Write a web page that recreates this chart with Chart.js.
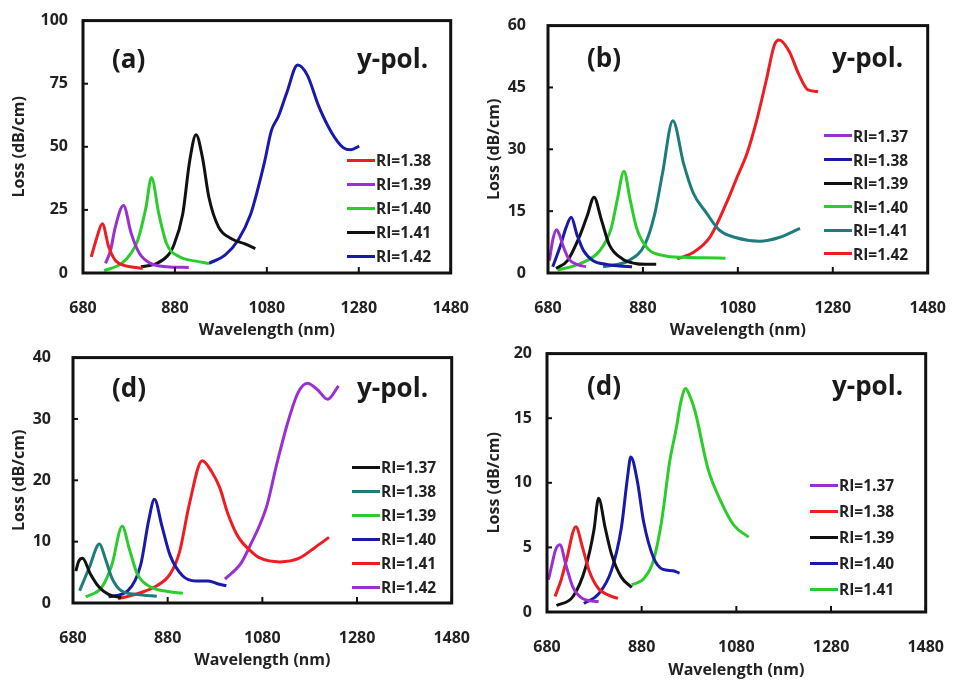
<!DOCTYPE html>
<html lang="en">
<head>
<meta charset="UTF-8">
<title>Loss spectra, y-pol.</title>
<script src="https://cdn.jsdelivr.net/npm/chart.js@4"></script>
<style>
    body { margin: 0; background: #fff; width: 963px; height: 683px; position: relative; overflow: hidden; font-family: "Open Sans", sans-serif; }
    canvas { position: absolute; }
    .tag { position: absolute; font-weight: 700; font-size: 26px; line-height: 26px; color: #1a1a1a; white-space: nowrap; }
    .legend { position: absolute; font-weight: 700; font-size: 15.5px; color: #222; }
    .legend .row { display: flex; align-items: center; white-space: nowrap; }
    .legend .sw { display: inline-block; width: 28px; height: 3px; margin-right: 1px; }
</style>
</head>
<body>
<script>
    // axis ticks
    const xTicks = [680, 880, 1080, 1280, 1480];
    const yTicksA = [0, 25, 50, 75, 100];
    const yTicksB = [0, 15, 30, 45, 60];
    const yTicksC = [0, 10, 20, 30, 40];
    const yTicksD = [0, 5, 10, 15, 20];

    // (a) [wavelength nm, loss dB/cm]
    const a138 = [[698, 6.4], [710, 14], [722, 19.5], [736, 10.3], [750, 5.1], [771, 2.9], [799, 2.1], [810, 1.8]];
    const a139 = [[729, 3.8], [740, 9], [750, 18], [768, 26.7], [785, 15.6], [803, 7.7], [827, 3.8], [862, 2.5], [910, 2.2]];
    const a140 = [[726, 0.9], [764, 3.8], [785, 8], [799, 12.9], [817, 26], [829, 37.8], [845, 23.4], [862, 11.6], [890, 6.4], [926, 4.7], [954, 3.8]];
    const a141 = [[806, 2.5], [841, 3.8], [865, 7], [876, 10.3], [897, 23.4], [912, 44.3], [926, 54.8], [940, 45.6], [954, 29.9], [975, 18.2], [1003, 13.6], [1031, 11.6], [1055, 9.7]];
    const a142 = [[954, 3.8], [989, 7.1], [1017, 12.9], [1045, 23.4], [1060, 33], [1075, 44], [1090, 56.5], [1105, 62], [1123, 71.2], [1147, 82.4], [1168, 78.4], [1193, 66], [1221, 55.6], [1246, 49.7], [1263, 48.8], [1281, 50.3]];

    // (b)
    const b137 = [[683, 3], [690, 8], [698, 10.5], [705, 9], [712, 6.5], [724, 3.4], [741, 2.1], [760, 1.5]];
    const b138 = [[690, 1.5], [707, 6.9], [718, 11], [729, 13.5], [741, 9.3], [755, 5.4], [775, 3], [802, 2.1], [830, 1.7], [857, 1.5]];
    const b139 = [[697, 1.1], [721, 3], [748, 9.3], [763, 14], [777, 18.4], [792, 13.1], [809, 6.9], [837, 3.4], [864, 2.3], [884, 2.1], [908, 2.1]];
    const b140 = [[700, 0.7], [748, 2.3], [789, 5.4], [813, 10.8], [826, 17.8], [840, 24.7], [853, 17.8], [867, 10.8], [891, 5.8], [925, 4.2], [966, 3.8], [1007, 3.7], [1054, 3.6]];
    const b141 = [[796, 1.5], [850, 3], [884, 6.9], [904, 13.9], [921, 24], [943, 36.9], [966, 26.4], [986, 19.4], [1013, 14.7], [1041, 10.4], [1075, 8.6], [1126, 7.7], [1167, 8.6], [1211, 10.8]];
    const b142 = [[952, 3.4], [986, 5], [1020, 8.5], [1056, 17], [1079, 23.4], [1099, 28.9], [1119, 36.7], [1140, 46.8], [1157, 55.3], [1167, 56.5], [1188, 53.8], [1208, 48.3], [1228, 44.4], [1249, 44]];

    // (c) - labelled "(d)" in the figure
    const c137 = [[686, 5.2], [692, 6.8], [700, 7.3], [717, 4.7], [735, 2.6], [755, 1.4], [782, 0.9]];
    const c138 = [[694, 2], [714, 5.7], [736, 9.6], [748, 7.3], [762, 4.1], [782, 2], [816, 1.4], [857, 1.1]];
    const c139 = [[707, 1], [741, 2.6], [762, 6.2], [784, 12.5], [799, 8.8], [816, 4.7], [844, 2.6], [878, 1.9], [912, 1.6]];
    const c140 = [[755, 1], [796, 2], [823, 6.2], [840, 13.5], [852, 16.9], [868, 12.5], [885, 7.8], [912, 4.4], [939, 3.6], [966, 3.6], [987, 3.1], [1004, 2.8]];
    const c141 = [[775, 0.7], [816, 1.5], [857, 2.8], [885, 4.7], [905, 8.3], [926, 16.2], [953, 23.2], [973, 21.4], [990, 18.8], [1007, 14.6], [1028, 10.9], [1055, 8.5], [1076, 7.3], [1117, 6.7], [1158, 7.3], [1192, 9.1], [1221, 10.7]];
    const c142 = [[1001, 3.9], [1035, 6.5], [1055, 9.5], [1076, 13], [1090, 16], [1110, 22.5], [1134, 29.5], [1155, 34.2], [1175, 35.8], [1196, 34.8], [1218, 33.2], [1241, 35.4]];

    // (d)
    const d137 = [[683, 2.5], [690, 3.6], [698, 4.8], [707, 5.2], [721, 3.5], [735, 1.9], [755, 1.05], [789, 0.8]];
    const d138 = [[697, 1.2], [710, 2.5], [721, 4], [741, 6.6], [755, 5], [769, 3.2], [789, 1.8], [810, 1.3], [830, 1.05]];
    const d139 = [[700, 0.5], [735, 1.2], [762, 3.5], [779, 6.3], [789, 8.8], [803, 6.5], [816, 4.5], [837, 2.7], [859, 1.9]];
    const d140 = [[758, 0.66], [789, 1.4], [816, 3.2], [837, 6.5], [850, 10.4], [857, 12], [871, 10.1], [884, 7], [905, 4.2], [925, 3.3], [946, 3.2], [960, 3]];
    const d141 = [[859, 2.1], [885, 2.6], [905, 4], [922, 7], [939, 11.6], [953, 14.2], [963, 16.3], [973, 17.3], [983, 16.6], [993, 15.5], [1020, 11.1], [1048, 8.5], [1075, 6.7], [1106, 5.8]];

    const namesA = ['RI=1.38', 'RI=1.39', 'RI=1.40', 'RI=1.41', 'RI=1.42'];
    const namesB = ['RI=1.37', 'RI=1.38', 'RI=1.39', 'RI=1.40', 'RI=1.41', 'RI=1.42'];
    const namesC = ['RI=1.37', 'RI=1.38', 'RI=1.39', 'RI=1.40', 'RI=1.41', 'RI=1.42'];
    const namesD = ['RI=1.37', 'RI=1.38', 'RI=1.39', 'RI=1.40', 'RI=1.41'];

    const RED = '#ee1d23', PURPLE = '#9a30cf', GREEN = '#2dcc2d', BLACK = '#111111', BLUE = '#1a1aaa', TEAL = '#1f7c7c';

    // box around the plot + small inward tick marks
    const frame = {
        id: 'frame',
        afterDatasetsDraw(chart) {
            const { ctx, chartArea: a, scales } = chart;
            ctx.save();
            ctx.strokeStyle = '#111';
            ctx.lineWidth = 2;
            scales.x.ticks.forEach(t => {
                const x = scales.x.getPixelForValue(t.value);
                ctx.beginPath(); ctx.moveTo(x, a.bottom); ctx.lineTo(x, a.bottom - 6); ctx.stroke();
            });
            scales.y.ticks.forEach(t => {
                const y = scales.y.getPixelForValue(t.value);
                ctx.beginPath(); ctx.moveTo(a.left, y); ctx.lineTo(a.left + 5, y); ctx.stroke();
            });
            ctx.lineWidth = 3;
            ctx.strokeRect(a.left, a.top, a.right - a.left, a.bottom - a.top);
            ctx.restore();
        }
    };

    function makePanel(p) {
        const padTop = 14, padRight = 24;
        const w = p.box[2] - p.box[0], h = p.box[3] - p.box[1];
        const cv = document.createElement('canvas');
        cv.width = p.yw + w + padRight;
        cv.height = padTop + h + p.xh;
        cv.style.left = (p.box[0] - p.yw) + 'px';
        cv.style.top = (p.box[1] - padTop) + 'px';
        document.body.appendChild(cv);

        const tickFont = { family: 'Open Sans', size: 16, weight: 'bold' };
        new Chart(cv, {
            type: 'scatter',
            data: {
                datasets: p.series.map((s, i) => ({
                    label: p.names[i],
                    data: s.map(q => ({ x: q[0], y: q[1] })),
                    showLine: true,
                    borderColor: p.colors[i],
                    borderWidth: 3,
                    pointRadius: 0,
                    cubicInterpolationMode: 'monotone'
                }))
            },
            options: {
                responsive: false,
                animation: false,
                layout: { padding: { top: padTop, right: padRight, left: 0, bottom: 0 } },
                plugins: { legend: { display: false }, tooltip: { enabled: false } },
                scales: {
                    x: {
                        type: 'linear', min: xTicks[0], max: xTicks[xTicks.length - 1],
                        afterBuildTicks: s => { s.ticks = xTicks.map(v => ({ value: v })); },
                        afterFit: s => { s.height = p.xh; },
                        grid: { display: false }, border: { display: false },
                        ticks: { color: '#222', font: tickFont, padding: p.xpad, maxRotation: 0, callback: v => String(v) },
                        title: { display: true, text: 'Wavelength (nm)', color: '#222', font: tickFont, padding: { top: 0, bottom: 0 } }
                    },
                    y: {
                        min: p.yTicks[0], max: p.yTicks[p.yTicks.length - 1],
                        afterBuildTicks: s => { s.ticks = p.yTicks.map(v => ({ value: v })); },
                        afterFit: s => { s.width = p.yw; },
                        grid: { display: false }, border: { display: false },
                        ticks: { color: '#222', font: tickFont, padding: p.ypad, callback: v => String(v) },
                        title: { display: true, text: 'Loss (dB/cm)', color: '#222', font: tickFont, padding: { top: p.ytitle, bottom: 0 } }
                    }
                }
            },
            plugins: [frame]
        });

        // panel tag and polarisation text
        const tag = document.createElement('div');
        tag.className = 'tag'; tag.textContent = p.tag;
        tag.style.left = p.tagPos[0] + 'px'; tag.style.top = p.tagPos[1] + 'px';
        document.body.appendChild(tag);
        const pol = document.createElement('div');
        pol.className = 'tag'; pol.textContent = 'y-pol.';
        pol.style.left = p.polPos[0] + 'px'; pol.style.top = p.polPos[1] + 'px';
        document.body.appendChild(pol);

        // legend
        const lg = document.createElement('div');
        lg.className = 'legend';
        lg.style.left = p.legend[0] + 'px';
        lg.style.top = (p.legend[1] - p.legend[2] / 2) + 'px';
        p.names.forEach((n, i) => {
            const row = document.createElement('div');
            row.className = 'row';
            row.style.height = p.legend[2] + 'px';
            row.innerHTML = `<span class="sw" style="background:${p.colors[i]}"></span>${n}`;
            lg.appendChild(row);
        });
        document.body.appendChild(lg);
    }

    makePanel({
        box: [83, 18, 463, 273], yw: 83, xh: 67, xpad: 18, ypad: 7, ytitle: 10,
        yTicks: yTicksA, series: [a138, a139, a140, a141, a142], names: namesA,
        colors: [RED, PURPLE, GREEN, BLACK, BLUE],
        tag: '(a)', tagPos: [112, 45], polPos: [357, 45], legend: [347, 160, 24]
    });
    makePanel({
        box: [548, 16, 940, 273], yw: 68, xh: 67, xpad: 18, ypad: 14, ytitle: 5,
        yTicks: yTicksB, series: [b137, b138, b139, b140, b141, b142], names: namesB,
        colors: [PURPLE, BLUE, BLACK, GREEN, TEAL, RED],
        tag: '(b)', tagPos: [587, 44], polPos: [832, 44], legend: [824, 136, 23.6]
    });
    makePanel({
        box: [73, 348, 464, 603], yw: 73, xh: 67, xpad: 18, ypad: 14, ytitle: 10,
        yTicks: yTicksC, series: [c137, c138, c139, c140, c141, c142], names: namesC,
        colors: [BLACK, TEAL, GREEN, BLUE, RED, PURPLE],
        tag: '(d)', tagPos: [112, 374], polPos: [357, 374], legend: [352, 467, 24]
    });
    makePanel({
        box: [547, 351, 938, 612], yw: 67, xh: 68, xpad: 18, ypad: 7, ytitle: 5,
        yTicks: yTicksD, series: [d137, d138, d139, d140, d141], names: namesD,
        colors: [PURPLE, RED, BLACK, BLUE, GREEN],
        tag: '(d)', tagPos: [587, 372], polPos: [832, 372], legend: [810, 485, 26]
    });
</script>
</body>
</html>
